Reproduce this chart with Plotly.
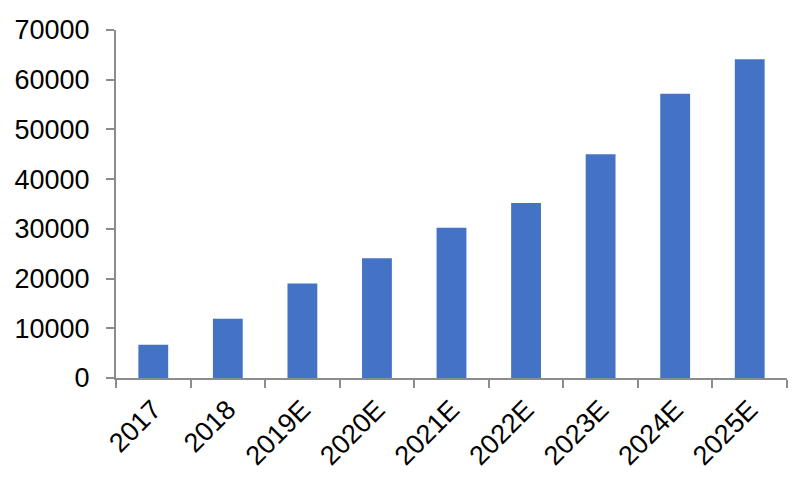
import plotly.graph_objects as go

categories = ["2017", "2018", "2019E", "2020E", "2021E", "2022E", "2023E", "2024E", "2025E"]
values = [6700, 11900, 19000, 24100, 30200, 35200, 45000, 57200, 64100]
y_ticks = [0, 10000, 20000, 30000, 40000, 50000, 60000, 70000]

fig = go.Figure(go.Bar(
    x=categories, y=values,
    marker=dict(color="#4472C4", line=dict(width=0)),
))

axis_color = "#8c8c8c"
fig.update_layout(
    width=800, height=480,
    margin=dict(l=108, r=21, t=22, b=110),
    paper_bgcolor="white", plot_bgcolor="white",
    bargap=0.6,
    showlegend=False,
    font=dict(family="Liberation Sans, Arial, sans-serif", size=27, color="black"),
)
fig.update_xaxes(
    type="category", automargin=False,
    showline=True, linecolor=axis_color, linewidth=2,
    ticks="outside", tickson="boundaries", ticklen=8, tickcolor=axis_color, tickwidth=2,
    tickangle=-45, showgrid=False, zeroline=False, ticklabelstandoff=3,
)
fig.update_yaxes(
    range=[0, 70000], tickvals=y_ticks, ticktext=[str(v) for v in y_ticks],
    automargin=False,
    showline=True, linecolor=axis_color, linewidth=2,
    ticks="outside", ticklen=8, tickcolor=axis_color, tickwidth=2,
    showgrid=False, zeroline=False, ticklabelstandoff=11,
)

fig.write_html("out.html")
